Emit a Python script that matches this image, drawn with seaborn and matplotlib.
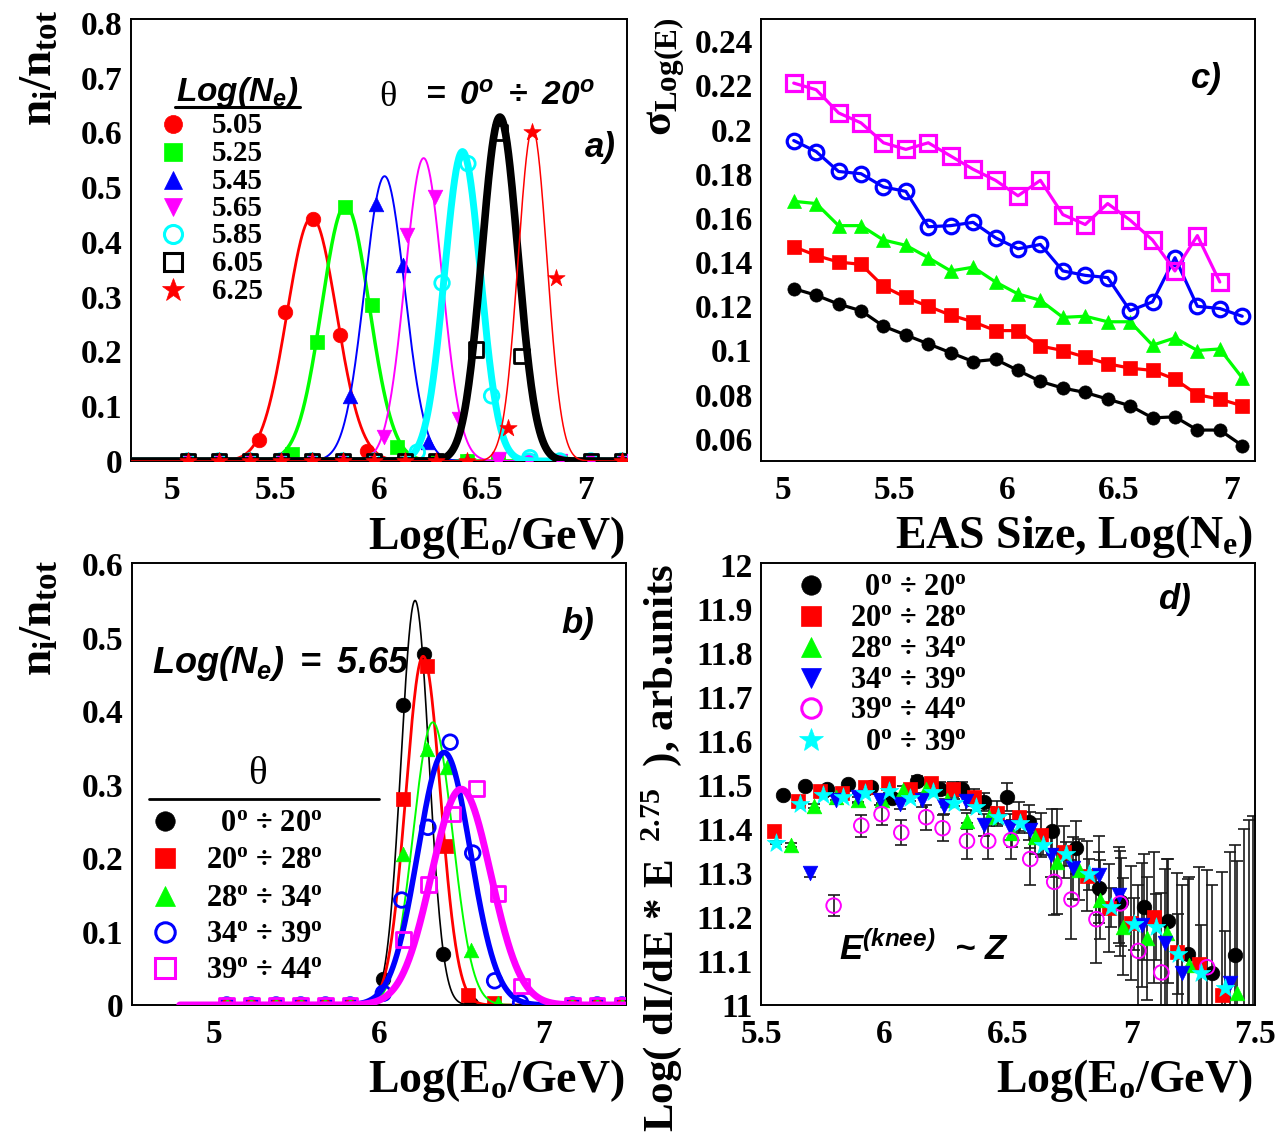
import numpy as np
import pandas as pd
import matplotlib
matplotlib.use("Agg")
import matplotlib.pyplot as plt
import seaborn as sns
from matplotlib.ticker import MultipleLocator, FuncFormatter

W, H = 1286, 1145

# ---------------- panel a) : n_i/n_tot vs Log(E0), theta = 0-20 deg ----------------
a_labels = ["5.05", "5.25", "5.45", "5.65", "5.85", "6.05", "6.25"]
a505_x = [5.42, 5.545, 5.68, 5.81, 5.94]
a505_y = [0.038, 0.272, 0.442, 0.230, 0.018]
a525_x = [5.58, 5.70, 5.835, 5.965, 6.085]
a525_y = [0.012, 0.218, 0.464, 0.285, 0.025]
a545_x = [5.86, 5.985, 6.115, 6.235]
a545_y = [0.119, 0.470, 0.358, 0.035]
a565_x = [6.025, 6.135, 6.27, 6.385, 6.58]
a565_y = [0.044, 0.413, 0.482, 0.077, 0.004]
a585_x = [6.185, 6.305, 6.43, 6.545, 6.73]
a585_y = [0.016, 0.325, 0.543, 0.119, 0.006]
a605_x = [6.47, 6.585, 6.69]
a605_y = [0.204, 0.600, 0.192]
a625_x = [6.625, 6.74, 6.855]
a625_y = [0.060, 0.600, 0.335]
a_zero_bins = [5.075, 5.225, 5.375, 5.525, 5.675, 5.825, 5.975, 6.125,
               6.275, 6.425, 6.575, 6.725, 6.875, 7.025, 7.175]
a_fit_mu = [5.675, 5.838, 6.027, 6.216, 6.404, 6.585, 6.743]
a_fit_sigma = [0.12, 0.115, 0.097, 0.09, 0.087, 0.087, 0.07]
a_fit_amp = [0.445, 0.467, 0.52, 0.553, 0.565, 0.628, 0.607]

# ---------------- panel b) : Log(Ne)=5.65, zenith-angle bins ----------------
theta_labels = ["   $0^{o}$ ÷ $20^{o}$", "$20^{o}$ ÷ $28^{o}$", "$28^{o}$ ÷ $34^{o}$",
                "$34^{o}$ ÷ $39^{o}$", "$39^{o}$ ÷ $44^{o}$"]
b0020_x = [6.026, 6.146, 6.272, 6.39, 6.56]
b0020_y = [0.036, 0.409, 0.478, 0.070, 0.002]
b2028_x = [6.146, 6.289, 6.409, 6.542, 6.70]
b2028_y = [0.281, 0.462, 0.217, 0.014, 0.003]
b2834_x = [6.146, 6.289, 6.415, 6.556, 6.72]
b2834_y = [0.206, 0.348, 0.324, 0.075, 0.003]
b3439_x = [6.026, 6.138, 6.297, 6.432, 6.569, 6.702, 6.86]
b3439_y = [0.016, 0.143, 0.242, 0.358, 0.207, 0.033, 0.003]
b3944_x = [6.148, 6.300, 6.448, 6.592, 6.723, 6.867]
b3944_y = [0.089, 0.164, 0.260, 0.295, 0.152, 0.026]
b_zero_bins = [5.075, 5.225, 5.375, 5.525, 5.675, 5.825, 7.175, 7.325, 7.475]
b_fit_mu = [6.219, 6.268, 6.327, 6.396, 6.499]
b_fit_sigma = [0.085, 0.105, 0.12, 0.16, 0.18]
b_fit_amp = [0.551, 0.475, 0.385, 0.344, 0.294]

# ---------------- panel c) : sigma_Log(E) vs Log(Ne) ----------------
c_x = [5.05, 5.15, 5.25, 5.35, 5.45, 5.55, 5.65, 5.75, 5.85, 5.95, 6.05,
       6.15, 6.25, 6.35, 6.45, 6.55, 6.65, 6.75, 6.85, 6.95, 7.05]
c_0020 = [0.128, 0.125, 0.121, 0.118, 0.111, 0.107, 0.103, 0.099, 0.095, 0.096, 0.091,
          0.086, 0.083, 0.081, 0.078, 0.075, 0.0695, 0.070, 0.064, 0.064, 0.057]
c_2028 = [0.147, 0.143, 0.140, 0.139, 0.129, 0.124, 0.120, 0.116, 0.113, 0.109, 0.109,
          0.102, 0.100, 0.097, 0.094, 0.092, 0.091, 0.087, 0.080, 0.078, 0.075]
c_2834 = [0.1675, 0.1665, 0.1565, 0.1565, 0.150, 0.1476, 0.142, 0.136, 0.1377, 0.131, 0.1256,
          0.1227, 0.115, 0.1155, 0.113, 0.113, 0.1024, 0.1057, 0.100, 0.1007, 0.0876]
c_3439 = [0.195, 0.190, 0.181, 0.180, 0.174, 0.172, 0.156, 0.1565, 0.158, 0.151, 0.146,
          0.148, 0.136, 0.134, 0.133, 0.118, 0.122, 0.142, 0.120, 0.119, 0.1155]
c_3944 = [0.221, 0.218, 0.2075, 0.203, 0.194, 0.191, 0.194, 0.188, 0.182, 0.177, 0.170,
          0.177, 0.1615, 0.157, 0.1665, 0.159, 0.150, 0.136, 0.152, 0.131]

# ---------------- panel d) : Log(dI/dE * E^2.75) vs Log(E0) ----------------
d_labels = ["   $0^{o}$ ÷ $20^{o}$", "$20^{o}$ ÷ $28^{o}$", "$28^{o}$ ÷ $34^{o}$",
            "$34^{o}$ ÷ $39^{o}$", "$39^{o}$ ÷ $44^{o}$", "  $0^{o}$ ÷ $39^{o}$"]
d0020_x = [5.588, 5.678, 5.766, 5.851, 5.944, 6.029, 6.130, 6.223, 6.313, 6.404, 6.497,
           6.587, 6.680, 6.776, 6.868, 6.958, 7.051, 7.149, 7.229, 7.325, 7.420]
d0020_y = [11.477, 11.498, 11.492, 11.502, 11.496, 11.470, 11.509, 11.492, 11.491, 11.462, 11.473,
           11.415, 11.396, 11.358, 11.267, 11.235, 11.223, 11.191, 11.116, 11.073, 11.114]
d0020_e = [0.005, 0.005, 0.005, 0.006, 0.007, 0.008, 0.012, 0.014, 0.016, 0.02, 0.032,
           0.04, 0.05, 0.06, 0.08, 0.1, 0.12, 0.14, 0.17, 0.2, 0.25]
d2028_x = [5.554, 5.650, 5.740, 5.828, 5.921, 6.014, 6.102, 6.187, 6.277, 6.362, 6.455,
           6.545, 6.633, 6.726, 6.819, 6.907, 7.000, 7.090, 7.183, 7.272, 7.368]
d2028_y = [11.396, 11.464, 11.486, 11.481, 11.496, 11.505, 11.492, 11.504, 11.490, 11.472, 11.436,
           11.427, 11.386, 11.348, 11.293, 11.220, 11.186, 11.199, 11.121, 11.093, 11.023]
d2028_e = [0.004, 0.005, 0.005, 0.006, 0.007, 0.009, 0.011, 0.013, 0.016, 0.02, 0.028,
           0.035, 0.05, 0.06, 0.08, 0.1, 0.13, 0.15, 0.18, 0.22, 0.28]
d2834_x = [5.622, 5.715, 5.805, 5.893, 5.988, 6.076, 6.166, 6.254, 6.334, 6.424,
           6.517, 6.610, 6.700, 6.788, 6.873, 6.966, 7.062, 7.144, 7.232, 7.427]
d2834_y = [11.364, 11.452, 11.472, 11.466, 11.466, 11.489, 11.490, 11.466, 11.419, 11.428,
           11.390, 11.383, 11.326, 11.308, 11.239, 11.178, 11.152, 11.163, 11.091, 11.027]
d2834_e = [0.005, 0.005, 0.006, 0.007, 0.008, 0.01, 0.012, 0.015, 0.018, 0.022,
           0.03, 0.04, 0.12, 0.07, 0.09, 0.11, 0.14, 0.17, 0.2, 0.3]
d3439_x = [5.697, 5.802, 5.893, 5.983, 6.063, 6.153, 6.241, 6.331, 6.404, 6.509,
           6.591, 6.675, 6.762, 6.868, 6.950, 7.043, 7.136, 7.206, 7.399]
d3439_y = [11.301, 11.467, 11.472, 11.467, 11.458, 11.466, 11.452, 11.464, 11.409, 11.405,
           11.398, 11.341, 11.311, 11.295, 11.250, 11.182, 11.140, 11.072, 11.049]
d3439_e = [0.01, 0.01, 0.01, 0.012, 0.013, 0.015, 0.017, 0.02, 0.025, 0.03,
           0.04, 0.05, 0.07, 0.09, 0.11, 0.14, 0.17, 0.2, 0.3]
d3944_x = [5.794, 5.906, 5.988, 6.068, 6.169, 6.235, 6.334, 6.420, 6.512, 6.590,
           6.687, 6.757, 6.858, 6.954, 7.028, 7.121, 7.306]
d3944_y = [11.226, 11.408, 11.434, 11.392, 11.427, 11.402, 11.373, 11.373, 11.375, 11.332,
           11.280, 11.240, 11.195, 11.231, 11.123, 11.074, 11.086]
d3944_e = [0.024, 0.025, 0.025, 0.028, 0.028, 0.03, 0.04, 0.04, 0.043, 0.06,
           0.075, 0.09, 0.1, 0.12, 0.15, 0.18, 0.22]
d0039_x = [5.562, 5.658, 5.751, 5.833, 5.921, 6.017, 6.104, 6.195, 6.282, 6.370, 6.460,
           6.548, 6.641, 6.734, 6.827, 6.916, 7.009, 7.101, 7.190, 7.283, 7.379]
d0039_y = [11.369, 11.458, 11.477, 11.472, 11.481, 11.487, 11.470, 11.485, 11.460, 11.451, 11.427,
           11.413, 11.364, 11.343, 11.297, 11.222, 11.184, 11.178, 11.116, 11.072, 11.038]
d0039_e = [0.003, 0.003, 0.003, 0.004, 0.004, 0.005, 0.006, 0.007, 0.008, 0.01, 0.015,
           0.018, 0.022, 0.028, 0.035, 0.045, 0.06, 0.075, 0.09, 0.11, 0.13]
# points below the frame whose error bars reach into it
d_low_x = [7.455, 7.475, 7.492]
d_low_y = [10.95, 10.90, 10.93]
d_low_e = [0.45, 0.52, 0.50]

# ---------------- styles ----------------
RED, GREEN, BLUE, MAG, CYAN, BLACK = "#ff0000", "#00ff00", "#0000ff", "#ff00ff", "#00ffff", "#000000"
a_colors = [RED, GREEN, BLUE, MAG, CYAN, BLACK, RED]
a_markers = ["o", "s", "^", "v", "o", "s", "*"]
a_open = [False, False, False, False, True, True, False]
a_lw = [2.0, 2.5, 1.4, 1.4, 5.0, 5.5, 1.1]
b_colors = [BLACK, RED, GREEN, BLUE, MAG]
b_markers = ["o", "s", "^", "o", "s"]
b_open = [False, False, False, True, True]
b_lw = [1.2, 2.0, 1.4, 4.0, 5.0]
d_colors = [BLACK, RED, GREEN, BLUE, MAG, CYAN]
d_markers = ["o", "s", "^", "v", "o", "*"]
d_open = [False, False, False, False, True, False]

sns.set_theme(style="white")
plt.rcParams.update({
    "font.family": ["Liberation Serif", "DejaVu Serif"],
    "font.weight": "bold",
    "mathtext.fontset": "custom",
    "mathtext.rm": "Liberation Serif:bold",
    "mathtext.it": "Liberation Serif:bold",
    "mathtext.bf": "Liberation Serif:bold",
    "mathtext.sf": "Liberation Sans:bold:italic",
    "axes.edgecolor": "black",
    "axes.linewidth": 1.4,
    "text.color": "black",
    "xtick.color": "black",
    "ytick.color": "black",
})

fig = plt.figure(figsize=(W / 100, H / 100), dpi=100)
fig.patch.set_facecolor("white")


def fx(p):
    return p / W


def fy(p):
    return 1 - p / H


def add_ax(l, t, r, b):
    return fig.add_axes([fx(l), fy(b), (r - l) / W, (b - t) / H])


def style_axis(ax, xlim, ylim, xmaj, xmin, ymaj, ymin):
    ax.set_xlim(*xlim)
    ax.set_ylim(*ylim)
    ax.xaxis.set_major_locator(MultipleLocator(xmaj))
    ax.xaxis.set_minor_locator(MultipleLocator(xmin))
    ax.yaxis.set_major_locator(MultipleLocator(ymaj))
    ax.yaxis.set_minor_locator(MultipleLocator(ymin))
    fmt = FuncFormatter(lambda v, p: f"{round(v, 4):g}")
    ax.xaxis.set_major_formatter(fmt)
    ax.yaxis.set_major_formatter(fmt)
    ax.tick_params(which="both", direction="in", top=False, right=False, width=1.3, color="black")
    ax.tick_params(axis="y", which="major", length=15, labelsize=24, pad=6)
    ax.tick_params(axis="y", which="minor", length=7)
    ax.tick_params(axis="x", which="major", length=10, labelsize=24, pad=10)
    ax.tick_params(axis="x", which="minor", length=5)
    for s in ax.spines.values():
        s.set_linewidth(1.4)
        s.set_color("black")
    ax.set_xlabel("")
    ax.set_ylabel("")
    ax.set_facecolor("white")


def gauss_curve(mu, sig, amp, lo, hi):
    xs = np.linspace(lo, hi, 700)
    return xs, amp * np.exp(-0.5 * ((xs - mu) / sig) ** 2)


def scatter(ax, x, y, color, marker, ms, open_=False, mew=2.0, z=3):
    kw = dict(x=list(x), y=list(y), ax=ax, marker=marker, s=ms ** 2, legend=False, zorder=z)
    if open_:
        sns.scatterplot(color=color, facecolors="none", edgecolor=color, linewidth=mew, **kw)
    else:
        sns.scatterplot(color=color, edgecolor=color, linewidth=0.5, **kw)


def key_marker(x, y, color, marker, ms, open_=False, mew=2.2):
    fig.add_artist(plt.Line2D([fx(x)], [fy(y)], transform=fig.transFigure, marker=marker,
                              ms=ms, ls="none", mfc="none" if open_ else color,
                              mec=color, mew=mew if open_ else 0.5))


SANS_BI = dict(fontfamily="Liberation Sans", fontstyle="italic", fontweight="bold")

ax_a = add_ax(131, 19, 627, 461)
ax_c = add_ax(761, 19, 1255, 461)
ax_b = add_ax(132, 563, 626, 1005)
ax_d = add_ax(761, 563, 1255, 1005)

# ---------------- draw panel a ----------------
a_xs = [a505_x, a525_x, a545_x, a565_x, a585_x, a605_x, a625_x]
a_ys = [a505_y, a525_y, a545_y, a565_y, a585_y, a605_y, a625_y]
for i in range(len(a_labels)):
    xs, ys = gauss_curve(a_fit_mu[i], a_fit_sigma[i], a_fit_amp[i], 4.8, 7.2)
    sns.lineplot(x=xs, y=ys, ax=ax_a, color=a_colors[i], linewidth=a_lw[i],
                 estimator=None, sort=False, legend=False, zorder=2 + i * 0.2)
    zb = [b for b in a_zero_bins if abs(b - a_fit_mu[i]) > 0.3]
    ms = 13 if a_markers[i] == "*" else 10.5
    scatter(ax_a, a_xs[i] + zb, a_ys[i] + [0.0] * len(zb), a_colors[i], a_markers[i], ms,
            open_=a_open[i], z=2.1 + i * 0.2)
style_axis(ax_a, (4.8, 7.2), (0, 0.807), 0.5, 0.1, 0.1, 0.02)

# legend of panel a
fig.text(fx(176), fy(101), r"$\mathsf{Log(N_{e})}$", fontsize=24, ha="left", va="baseline")
fig.add_artist(plt.Line2D([fx(175), fx(300)], [fy(107), fy(107)], transform=fig.transFigure,
                          color="black", lw=2.2))
a_key_y = [124, 152, 180, 207, 234, 262, 290]
for i, lab in enumerate(a_labels):
    ms = 17 if a_markers[i] == "*" else 13
    key_marker(173, a_key_y[i], a_colors[i], a_markers[i], ms, a_open[i])
    fig.text(fx(212), fy(a_key_y[i] + 9), lab, fontsize=21, ha="left", va="baseline")
fig.text(fx(388), fy(106), "θ", fontsize=26, fontweight="normal", ha="center", va="baseline")
fig.text(fx(420), fy(106), r"$\mathsf{=\ 0^{o}\ \div\ 20^{o}}$", fontsize=24, ha="left", va="baseline")
fig.text(fx(585), fy(157), "a)", fontsize=25, ha="left", va="baseline", **SANS_BI)

# ---------------- draw panel b ----------------
b_xs = [b0020_x, b2028_x, b2834_x, b3439_x, b3944_x]
b_ys = [b0020_y, b2028_y, b2834_y, b3439_y, b3944_y]
for i in range(len(theta_labels)):
    xs, ys = gauss_curve(b_fit_mu[i], b_fit_sigma[i], b_fit_amp[i], 4.79, 7.5)
    sns.lineplot(x=xs, y=ys, ax=ax_b, color=b_colors[i], linewidth=b_lw[i],
                 estimator=None, sort=False, legend=False, zorder=2 + i * 0.2)
    scatter(ax_b, b_xs[i] + b_zero_bins, b_ys[i] + [0.0] * len(b_zero_bins), b_colors[i],
            b_markers[i], 10.5, open_=b_open[i], z=2.1 + i * 0.2)
style_axis(ax_b, (4.5, 7.5), (0, 0.602), 1.0, 0.2, 0.1, 0.02)

fig.text(fx(152), fy(673), r"$\mathsf{Log(N_{e})\ =\ 5.65}$", fontsize=26, ha="left", va="baseline")
fig.text(fx(561), fy(633), "b)", fontsize=25, ha="left", va="baseline", **SANS_BI)
fig.text(fx(257), fy(775), "θ", fontsize=28, fontweight="normal", ha="center", va="center")
fig.add_artist(plt.Line2D([fx(149), fx(379)], [fy(799), fy(799)], transform=fig.transFigure,
                          color="black", lw=2.0))
b_key_y = [821, 858, 896, 932, 968]
for i, lab in enumerate(theta_labels):
    key_marker(165, b_key_y[i], b_colors[i], b_markers[i], 14, b_open[i])
    fig.text(fx(323), fy(b_key_y[i] + 10), lab, fontsize=22, ha="right", va="baseline")

# ---------------- draw panel c ----------------
c_series = [c_0020, c_2028, c_2834, c_3439, c_3944]
c_colors = [BLACK, RED, GREEN, BLUE, MAG]
c_markers = ["o", "s", "^", "o", "s"]
c_open = [False, False, False, True, True]
c_ms = [9.5, 10, 10, 10.5, 11.5]
for i, ys in enumerate(c_series):
    xs = c_x[:len(ys)]
    sns.lineplot(x=xs, y=ys, ax=ax_c, color=c_colors[i], linewidth=2.3, estimator=None,
                 legend=False, marker=c_markers[i], markersize=c_ms[i],
                 markerfacecolor="none" if c_open[i] else c_colors[i],
                 markeredgecolor=c_colors[i], markeredgewidth=2.3 if c_open[i] else 0.5,
                 zorder=3 + i * 0.1)
style_axis(ax_c, (4.904, 7.107), (0.05, 0.25), 0.5, 0.1, 0.02, 0.005)
fig.text(fx(1191), fy(88), "c)", fontsize=25, ha="left", va="baseline", **SANS_BI)

# ---------------- draw panel d ----------------
d_xs = [d0020_x, d2028_x, d2834_x, d3439_x, d3944_x, d0039_x]
d_ys = [d0020_y, d2028_y, d2834_y, d3439_y, d3944_y, d0039_y]
d_es = [d0020_e, d2028_e, d2834_e, d3439_e, d3944_e, d0039_e]
for i in range(len(d_xs)):
    ax_d.errorbar(d_xs[i], d_ys[i], yerr=d_es[i], fmt="none", ecolor="#1a1a1a",
                  elinewidth=1.2, capsize=4.5, capthick=1.2, zorder=1.5)
ax_d.errorbar(d_low_x, d_low_y, yerr=d_low_e, fmt="none", ecolor="#1a1a1a",
              elinewidth=1.2, capsize=4.5, capthick=1.2, zorder=1.5)
for i in range(len(d_xs)):
    ms = 14 if d_markers[i] == "*" else 10.5
    scatter(ax_d, d_xs[i], d_ys[i], d_colors[i], d_markers[i], ms,
            open_=d_open[i], mew=1.4, z=3 + i * 0.1)
style_axis(ax_d, (5.5, 7.5), (11, 12.005), 0.5, 0.1, 0.1, 0.025)

d_key_y = [585, 616, 647, 678, 708, 740]
for i, lab in enumerate(d_labels):
    ms = 18 if d_markers[i] == "*" else 14
    key_marker(811, d_key_y[i], d_colors[i], d_markers[i], ms, d_open[i], mew=2.2)
    fig.text(fx(967), fy(d_key_y[i] + 10), lab, fontsize=22, ha="right", va="baseline")
fig.text(fx(1158), fy(609), "d)", fontsize=25, ha="left", va="baseline", **SANS_BI)
fig.text(fx(839), fy(960), r"$\mathsf{E^{(knee)}}$  ~ Z", fontsize=25, ha="left",
         va="baseline", **SANS_BI)

# ---------------- axis titles ----------------
fig.text(fx(625), fy(549), r"$Log(E_{o}/GeV)$", fontsize=33, ha="right", va="baseline")
fig.text(fx(1253), fy(548), r"EAS Size, Log($N_{e}$)", fontsize=33, ha="right", va="baseline")
fig.text(fx(625), fy(1092), r"$Log(E_{o}/GeV)$", fontsize=33, ha="right", va="baseline")
fig.text(fx(1253), fy(1092), r"$Log(E_{o}/GeV)$", fontsize=33, ha="right", va="baseline")

fig.text(fx(52), fy(10), r"$n_{i}/n_{tot}$", fontsize=34, rotation=90, rotation_mode="anchor",
         ha="right", va="baseline")
fig.text(fx(52), fy(560), r"$n_{i}/n_{tot}$", fontsize=34, rotation=90, rotation_mode="anchor",
         ha="right", va="baseline")
fig.text(fx(671), fy(18), r"$\sigma_{Log(E)}$", fontsize=32, rotation=90, rotation_mode="anchor",
         ha="right", va="baseline")
fig.text(fx(673), fy(563), r"Log( dI/dE * E$^{\ \ 2.75}$  ), arb.units", fontsize=31,
         rotation=90, rotation_mode="anchor", ha="right", va="baseline")

fig.savefig("out.png", dpi=100, facecolor="white")
